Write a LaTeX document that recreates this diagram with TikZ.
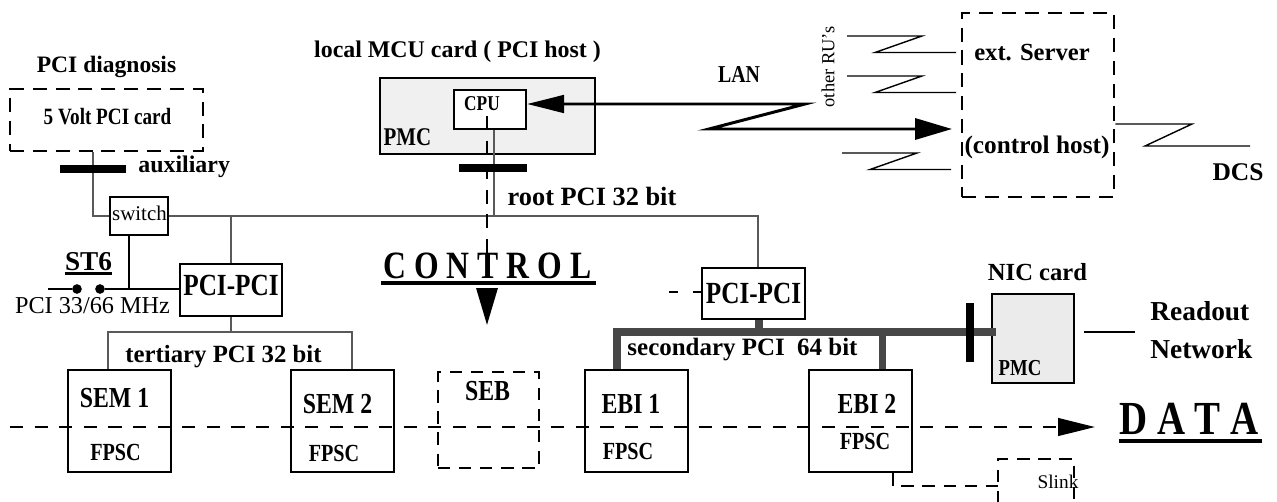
\documentclass[tikz,border=0pt]{standalone}
\usepackage{fontspec}
\setmainfont{Liberation Serif}
\newfontfamily\cnd[FakeStretch=0.82]{Liberation Serif}
\usetikzlibrary{arrows.meta,positioning,calc}
\newcommand\bsz[1]{\bfseries\fontsize{#1}{#1}\selectfont}
\newcommand\csz[1]{\cnd\bfseries\fontsize{#1}{#1}\selectfont}
\newcommand\rsz[1]{\fontsize{#1}{#1}\selectfont}
\begin{document}
\begin{tikzpicture}[x=0.02cm,y=-0.02cm,
  txt/.style={anchor=base,inner sep=0pt},
  cbox/.style={draw,line width=1.5pt,inner sep=0pt},
  dbox/.style={draw,line width=1.6pt,dash pattern=on 8pt off 5pt,inner sep=0pt},
  lbox/.style={draw,line width=0.9pt,dash pattern=on 7pt off 5pt,inner sep=0pt},
  bus/.style={draw=black!65,line width=1.5pt},
  bigbus/.style={draw=black!72,line width=4pt},
  bar/.style={line width=4.5pt},
  wire/.style={line width=0.8pt},
  dot/.style={circle,fill,inner sep=0pt,minimum size=5.5pt},
  bigtip/.style={-{Triangle[length=21pt,width=12pt]}}]
\useasboundingbox (0,0) rectangle (1277,501);
% PCI diagnosis / switch
\node[txt,font=\bsz{13.4}] (diag) at (106.5,72) {PCI diagnosis};
\node[dbox,minimum width=3.86cm,minimum height=1.24cm] (pcd) at (106.5,120) {};
\node[txt,font=\csz{13.3}] (pcdt) at (107.5,124) {5 Volt PCI card};
\node[txt,anchor=base west,font=\bsz{13.6}] (aux) at (138,172) {auxiliary};
\node[draw,line width=1pt,inner sep=0pt,minimum width=1.16cm,minimum height=0.76cm] (sw) at (139,216) {};
\node[txt,font=\rsz{11.9}] (swt) at (139.5,220) {switch};
\node[txt,font=\bsz{15.5}] (st6) at (88.5,270) {ST6};
\node[dot] (sa) at (77,289) {};
\node[dot] (sb) at (100,289) {};
\node[txt,font=\rsz{13.8}] (mhz) at (92.5,313) {PCI 33/66 MHz};
% MCU card
\node[txt,font=\bsz{13.6}] (mcuh) at (457.5,57) {local MCU card ( PCI host )};
\node[draw,fill=black!6,line width=1.6pt,inner sep=0pt,minimum width=4.3cm,minimum height=1.52cm] (mcu) at (487.5,116) {};
\node[cbox,fill=white,line width=1.3pt,minimum width=1.44cm,minimum height=0.78cm] (cpu) at (490,109.5) {};
\node[txt,font=\csz{12}] (cput) at (482,110) {CPU};
\node[txt,font=\csz{14.5}] (mcup) at (407.5,145) {PMC};
\node[txt,font=\bsz{15}] (root) at (592,205) {root PCI 32 bit};
\node[txt,font=\csz{13.8}] (lan) at (739,82) {LAN};
\node[rotate=90,inner sep=0pt,font=\rsz{10.5}] (oru) at (828,67) {other RU’s};
% server
\node[dbox,minimum width=3.04cm,minimum height=3.68cm] (srv) at (1038,105) {};
\node[txt,font=\bsz{14}] (srvh) at (1032,60) {ext. Server};
\node[txt,font=\bsz{14.4}] (srvt) at (1037,153) {(control host)};
\node[txt,font=\bsz{14.5}] (dcs) at (1238,180) {DCS};
% bridges
\node[txt,font=\csz{22}] (ctl) at (487.5,278) {C O N T R O L};
\node[cbox,minimum width=2.04cm,minimum height=1.04cm] (ppl) at (231,290) {};
\node[txt,font=\csz{17.5}] (pplt) at (231,295) {PCI-PCI};
\node[cbox,minimum width=2.06cm,minimum height=1.02cm] (ppr) at (753.5,293.5) {};
\node[txt,font=\csz{17.5}] (pprt) at (753.5,303) {PCI-PCI};
\node[txt,font=\bsz{14.1}] (tert) at (223.5,362) {tertiary PCI 32 bit};
\node[txt,font=\bsz{14.2}] (sec) at (742.5,355) {secondary PCI\ \ 64 bit};
% NIC
\node[txt,font=\bsz{14}] (nich) at (1037.5,280) {NIC card};
\node[draw,fill=black!8,line width=1.5pt,inner sep=0pt,minimum width=1.64cm,minimum height=1.78cm] (nic) at (1033,338.5) {};
\node[txt,font=\csz{13}] (nicp) at (1020,375) {PMC};
\node[txt,anchor=base west,font=\bsz{15.6}] (rdo1) at (1150,320) {Readout};
\node[txt,anchor=base west,font=\bsz{15.6}] (rdo2) at (1150,358) {Network};
% modules
\foreach \n/\cx/\lab/\lx/\lb/\fx/\fb in {sem1/119.5/SEM 1/114.5/407/115.5/460,
    sem2/342.5/SEM 2/337.5/413/334/461, ebi1/636.5/EBI 1/631/413/628/459,
    ebi2/860.5/EBI 2/867/413/865/449}{
  \node[cbox,minimum width=2.06cm,minimum height=2.04cm] (\n) at (\cx,421) {};
  \node[txt,font=\csz{16.5}] (\n-l) at (\lx,\lb) {\lab};
  \node[txt,font=\csz{14}] (\n-f) at (\fx,\fb) {FPSC};
}
\node[lbox,minimum width=2.02cm,minimum height=1.92cm] (seb) at (488.5,420) {};
\node[txt,font=\csz{16.5}] (sebt) at (487.5,400) {SEB};
\draw[lbox] (998,503) -- (998,459) -- (1074,459) -- (1074,503);
\coordinate (slk) at (998,486);
\node[txt,font=\rsz{11}] (slkt) at (1058,488) {Slink};
\node[txt,font=\csz{27}] (data) at (1189,434) {D A T A};

% PCI buses
\coordinate (auxj) at (93,216);
\draw[bus] (auxj |- pcd.south) -- (auxj) -- (sw.west);
\coordinate (rbe) at (758,216);
\draw[bus] (sw.east) -- (rbe) -- (rbe |- ppr.north);
\draw[bus] (ppl.north) -- (ppl.north |- rbe);
\coordinate (rj) at (494,216);
\draw[bus] (rj |- cpu.south) -- (rj);
\coordinate (tb1) at (108,332);
\coordinate (tb2) at (352,332);
\draw[bus] (tb1 |- sem1.north) -- (tb1) -- (tb2) -- (tb2 |- sem2.north);
\draw[bus] (ppl.south) -- (ppl.south |- tb1);
\coordinate (sb1) at (617,332);
\coordinate (sb2) at (882,332);
\coordinate (sbs) at (759,332);
\draw[bigbus] (sb1 |- ebi1.north) -- (sb1) -- ($(nic.west |- sb1)+(5,0)$);
\draw[bigbus] (sb2) -- (sb2 |- ebi2.north);
\draw[bigbus] (sbs |- ppr.south) -- (sbs);
\draw[bar] (60,169) -- (126,169);
\draw[bar] (459,168) -- (527,168);
\draw[bar] (970,303) -- (970,362);

% ST6 jumper
\coordinate (stw) at (48,289);
\coordinate (stj) at (129,289);
\draw[line width=1.1pt] (stw) -- (sa);
\draw[line width=1.1pt] (sb) -- (ppl.west |- sb);
\draw[line width=1.1pt] (stj) -- (stj |- sw.south);

% underlines
\draw[line width=1.5pt] ($(st6.base west)+(0,3.5)$) -- ($(st6.base east)+(0,3.5)$);
\draw[line width=1.8pt] ($(ctl.base west)+(-2,5)$) -- ($(ctl.base east)+(4,5)$);
\draw[line width=2.3pt] ($(data.base west)+(0,7)$) -- ($(data.base east)+(3,7)$);

% control and data flow
\coordinate (ctop) at (487,116);
\coordinate (cend) at (487,325);
\draw[line width=1.6pt,dash pattern=on 8pt off 6pt,bigtip] (ctop) -- (cend);
\coordinate (dst) at (10,427);
\coordinate (dend) at (1095,427);
\draw[line width=1.4pt,dash pattern=on 7.5pt off 6.5pt,-{Triangle[length=21pt,width=10pt]}] (dst) -- (dend);
\coordinate (slj) at (893,486);
\draw[wire,dash pattern=on 7pt off 5pt] (slj |- ebi2.south) -- (slj) -- (slk);
\coordinate (lftd) at (669,292);
\draw[line width=0.9pt,dash pattern=on 5pt off 8.5pt] (lftd) -- (ppr.west |- lftd);

% LAN
\coordinate (lana) at (805,104);
\coordinate (lanb) at (709,129);
\coordinate (lanc) at (952,129);
\draw[line width=1.7pt,{Triangle[length=21pt,width=10pt]}-{Triangle[length=21pt,width=12pt]}] (cpu.east |- lana) -- (lana) -- (lanb) -- (lanc);
\foreach \xa/\ya in {847/36,847/76,842/153}
  \draw[wire] (\xa,\ya) -- ++(75,0) -- ++(-47,16.5) -- ++(81,0);
\coordinate (dcsa) at (1192,124);
\coordinate (dcsb) at (1145,146);
\coordinate (dcsc) at (1250,146);
\draw[wire] (srv.east |- dcsa) -- (dcsa) -- (dcsb) -- (dcsc);
\coordinate (rdoj) at (1135,332);
\draw[line width=1.2pt,shorten <=5pt] (nic.east |- rdoj) -- (rdoj);
\end{tikzpicture}
\end{document}
